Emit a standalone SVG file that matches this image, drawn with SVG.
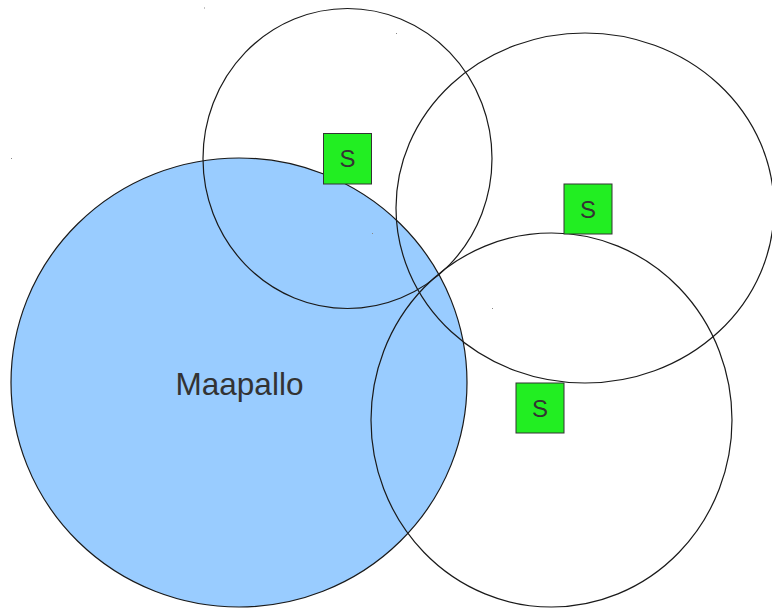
<svg xmlns="http://www.w3.org/2000/svg" width="772" height="608" viewBox="0 0 772 608">
<style>
.ring{fill:none;stroke:#1a1a1a;stroke-width:1.2}
.sat rect{fill:#22ee22;stroke:#333;stroke-width:1}
.sat text{font-family:"Liberation Sans",Arial,sans-serif;font-size:24px;fill:#333;text-anchor:middle;dominant-baseline:central}
.dot{fill:#888}
</style>
<rect width="772" height="608" fill="#fff"/>
<g id="earth">
<ellipse cx="239" cy="382.5" rx="228" ry="224.5" fill="#99ccff" stroke="#1a1a1a" stroke-width="1.2"/>
<text x="239.5" y="384" font-family="Liberation Sans, Arial, sans-serif" font-size="31.5" fill="#333" text-anchor="middle" dominant-baseline="central">Maapallo</text>
</g>
<g id="coverage">
<ellipse class="ring" cx="347.5" cy="158.5" rx="144.5" ry="150"/>
<ellipse class="ring" cx="585" cy="208" rx="189" ry="175"/>
<ellipse class="ring" cx="551.5" cy="420" rx="180.5" ry="187"/>
</g>
<g id="specks">
<rect class="dot" x="204" y="7.5" width="1" height="1"/>
<rect class="dot" x="396" y="33" width="1" height="1"/>
<rect class="dot" x="11" y="158" width="1" height="1"/>
<rect class="dot" x="372" y="233" width="1" height="1"/>
<rect class="dot" x="492" y="308" width="1" height="1"/>
</g>
<g id="sat1" class="sat"><rect x="323.5" y="133.5" width="48" height="50.5"/><text x="347.5" y="158.5">S</text></g>
<g id="sat2" class="sat"><rect x="564" y="184" width="48" height="50"/><text x="588" y="209">S</text></g>
<g id="sat3" class="sat"><rect x="516" y="383" width="48" height="50"/><text x="540" y="408">S</text></g>
</svg>
